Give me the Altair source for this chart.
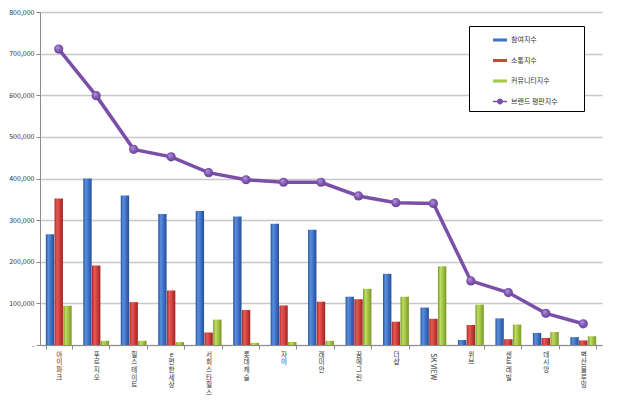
import altair as alt
import pandas as pd

brands = ["아이파크", "푸르지오", "힐스테이트", "e편한세상", "서희스타힐스", "롯데캐슬", "자이",
          "래미안", "꿈에그린", "더샵", "SK VIEW", "위브", "센트레빌", "데시앙", "벽산블루밍"]
series_names = ["참여지수", "소통지수", "커뮤니티지수", "브랜드 평판지수"]
participation = [266000, 400000, 359000, 315000, 322000, 309000, 291000, 277000,
                 116000, 171000, 90000, 12000, 64000, 29000, 19000]
communication = [352000, 191000, 103000, 131000, 30000, 84000, 95000, 104000,
                 110000, 56000, 63000, 48000, 14000, 17000, 11000]
community = [94000, 10000, 10000, 7000, 61000, 5000, 7000, 10000,
             135000, 116000, 189000, 97000, 49000, 31000, 21000]
brand_avg = [711000, 599000, 470000, 452000, 414000, 397000, 391000, 391000,
             358000, 342000, 340000, 154000, 126000, 76000, 51000]
y_ticks = [0, 100000, 200000, 300000, 400000, 500000, 600000, 700000, 800000]
rotated_label = ["SK VIEW"]
stacked_labels = [b for b in brands if b not in rotated_label]

rows = []
for name, vals in zip(series_names[:3], [participation, communication, community]):
    for b, v in zip(brands, vals):
        rows.append({"brand": b, "series": name, "value": v})
bars_df = pd.DataFrame(rows)
line_df = pd.DataFrame({"brand": brands, "series": series_names[3], "value": brand_avg})

FONT = "Noto Sans CJK KR"
PLOT_H = 333
x_scale = alt.Scale(domain=brands, paddingInner=0.31, paddingOuter=0.155)
y_enc = alt.Y(
    "value:Q",
    scale=alt.Scale(domain=[0, 800000], nice=False),
    axis=alt.Axis(values=y_ticks, title=None,
                  labelExpr="datum.value == 0 ? '-' : format(datum.value, ',')",
                  grid=True, gridColor="#C8C8C8", gridWidth=1.3,
                  domainColor="#8C8C8C", tickColor="#8C8C8C", tickSize=4,
                  labelFontSize=7, labelFont=FONT, labelColor="#333333", labelPadding=2),
)

main_x_axis = alt.Axis(orient="bottom", title=None, labelAngle=0, grid=False,
                       values=stacked_labels,
                       labelExpr="split(datum.label, '')",
                       tickBand="extent", domainColor="#8C8C8C", tickColor="#8C8C8C",
                       tickSize=4, labelBaseline="top", labelAlign="center",
                       labelLineHeight=7.7, labelFontSize=6.6, labelFont=FONT,
                       labelColor="#333333", labelPadding=2, labelOverlap=False)
sk_x_axis = alt.Axis(orient="top", offset=-PLOT_H, title=None, labelAngle=90, grid=False,
                     values=rotated_label,
                     domain=False, ticks=False, tickSize=0, labelAlign="left",
                     labelBaseline="middle", labelFontSize=7, labelFont=FONT,
                     labelColor="#333333", labelPadding=-8, labelOverlap=False)

def grad(c0, c1, c2, c3):
    return {"gradient": "linear", "x1": 0, "x2": 1, "y1": 0, "y2": 0,
            "stops": [{"offset": 0, "color": c0}, {"offset": 0.3, "color": c1},
                      {"offset": 0.65, "color": c2}, {"offset": 1, "color": c3}]}

bar_fills = [grad("#2A56A0", "#5A8EDC", "#3C6FC4", "#264C92"),
             grad("#A52A27", "#E65A55", "#CC3C38", "#9A2522"),
             grad("#7C9A2A", "#BEDC62", "#9DBE3E", "#789526")]

legend_def = alt.Legend(title=None, orient="none", legendX=429, legendY=14, direction="vertical",
                        padding=6, strokeColor="black", fillColor="white",
                        symbolSize=196, symbolOffset=17, rowPadding=9.5, labelFontSize=7,
                        labelFont=FONT, labelColor="#333333", labelOffset=3,
                        labelExpr="datum.label + '\u2800\u2800\u2800\u2800'")
rect_path = "M-1,-0.22H1V0.22H-1Z"
line_path = "M-1,-0.1H1V0.1H-1Z M0.42,0 A0.42,0.42 0 1 1 -0.42,0 A0.42,0.42 0 1 1 0.42,0"

legend_layer = alt.Chart(line_df).transform_filter("false").mark_point(filled=True, opacity=1).encode(
    x=alt.X("brand:N", scale=x_scale, axis=main_x_axis),
    y=y_enc,
    color=alt.Color("series:N", scale=alt.Scale(domain=series_names,
                    range=["#3F72C6", "#D04440", "#A5C94A", "#7B4FA8"]), legend=legend_def),
    shape=alt.Shape("series:N", scale=alt.Scale(domain=series_names,
                    range=[rect_path, rect_path, rect_path, line_path]), legend=legend_def),
)

layers = [legend_layer]
for i, name in enumerate(series_names[:3]):
    layers.append(
        alt.Chart(bars_df).transform_filter(alt.datum.series == name)
        .mark_bar(fill=bar_fills[i])
        .encode(
            x=alt.X("brand:N", scale=x_scale, axis=None),
            xOffset=alt.XOffset("series:N", scale=alt.Scale(domain=series_names[:3], paddingInner=0.04)),
            y=y_enc,
        )
    )

line = alt.Chart(line_df).mark_line(color="#7B4FA8", strokeWidth=3.5).encode(
    x=alt.X("brand:N", scale=x_scale, axis=sk_x_axis), y=y_enc)

dots = alt.Chart(line_df).mark_point(
    filled=True, size=85, opacity=1,
    fill={"gradient": "radial", "x1": 0.35, "y1": 0.3, "r1": 0, "x2": 0.5, "y2": 0.5, "r2": 0.6,
          "stops": [{"offset": 0, "color": "#B898E0"}, {"offset": 0.55, "color": "#8058B2"},
                    {"offset": 1, "color": "#5E3A8C"}]},
).encode(x=alt.X("brand:N", scale=x_scale, axis=None), y=y_enc)

chart = alt.layer(*layers, line, dots).resolve_axis(x="independent").properties(
    width=562, height=PLOT_H,
    autosize=alt.AutoSizeParams(type="none"),
    padding={"left": 32, "top": 4, "right": 8, "bottom": 53},
).configure_view(stroke=None)

chart.save("out.html", embed_options={"renderer": "svg", "actions": False})
